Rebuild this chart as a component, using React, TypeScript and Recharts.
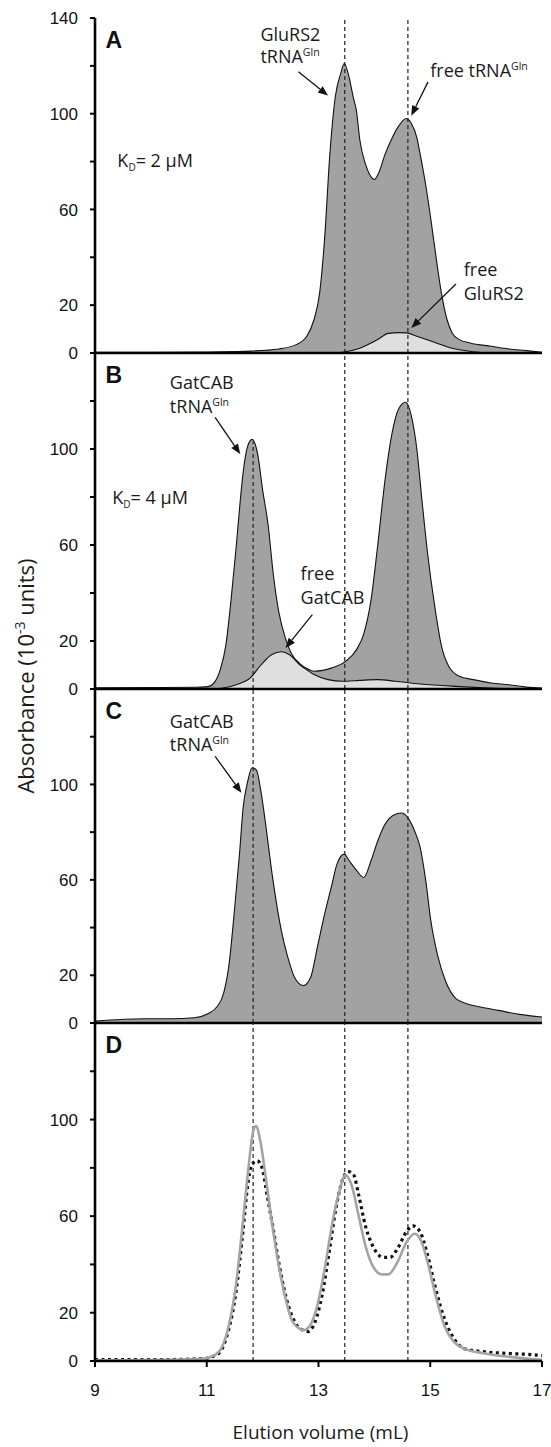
import React from 'react'
import { Area, ComposedChart, Line, ReferenceLine, XAxis, YAxis } from 'recharts'

const W = 551
const H = 1447
const PLOT_L = 95
const PLOT_R = 542
const X_DOMAIN: [number, number] = [9, 17]
const X_TICKS = [9, 11, 13, 15, 17]
const Y_TICKS = [0, 20, 40, 60, 80, 100, 120, 140]
const PEAKS = [11.83, 13.47, 14.6]

const PANELS = [
  { top: 18, bottom: 353 },
  { top: 353, bottom: 689 },
  { top: 689, bottom: 1023 },
  { top: 1023, bottom: 1361 },
]

// A: GluRS2 + tRNA (dark) and free GluRS2 (light)
const aX = [9, 10, 11, 11.5, 11.78, 12.29, 12.6, 12.79, 12.92, 13.02, 13.11, 13.2, 13.3, 13.4, 13.46, 13.55, 13.62, 13.68, 13.74, 13.84, 13.93, 14.0, 14.09, 14.19, 14.32, 14.44, 14.57, 14.66, 14.76, 14.82, 14.92, 15.01, 15.11, 15.2, 15.3, 15.39, 15.52, 15.71, 16.09, 16.41, 16.72, 17]
const aY = [0.3, 0.3, 0.4, 0.6, 0.8, 1.7, 3.5, 7, 14, 25, 48, 82, 107, 117, 121, 115, 107, 101, 89, 79, 74, 72.5, 76, 83, 90, 95, 98, 96, 90, 83, 70, 56, 39, 25, 14, 8.5, 5.6, 4.2, 2.8, 1.7, 1, 0.3]
const aFreeX = [13.3, 13.43, 13.74, 14.06, 14.25, 14.45, 14.57, 14.76, 15.01, 15.39, 15.71, 16.0]
const aFreeY = [0, 0.3, 2, 5.6, 8.2, 8.5, 8.4, 7, 5, 2, 0.7, 0]

// B: GatCAB + tRNA (dark) and free GatCAB (light)
const bX = [9, 10, 10.8, 11.02, 11.15, 11.24, 11.34, 11.43, 11.53, 11.59, 11.65, 11.73, 11.81, 11.91, 12.0, 12.1, 12.19, 12.29, 12.41, 12.51, 12.67, 12.79, 12.92, 13.24, 13.49, 13.68, 13.81, 13.94, 14.06, 14.19, 14.32, 14.44, 14.56, 14.66, 14.76, 14.85, 14.95, 15.08, 15.2, 15.33, 15.52, 15.77, 16.09, 16.41, 16.72, 17]
const bY = [0.5, 0.6, 0.7, 1, 3.2, 8, 18, 36, 60, 76, 90, 101, 104, 98, 83, 68, 48, 32, 21, 15, 10.5, 8.5, 7.4, 8.8, 11.6, 16.4, 23, 37, 60, 87, 107, 117, 119.5, 114, 100, 79, 57, 34.5, 18, 9.5, 5.3, 3.9, 2.5, 1.8, 0.8, 0.4]
const bFreeX = [11.1, 11.27, 11.53, 11.78, 11.97, 12.16, 12.34, 12.48, 12.67, 12.79, 12.92, 13.17, 13.43, 13.74, 14.06, 14.38, 14.82, 15.46, 16.09, 16.72, 17]
const bFreeY = [0, 0.3, 1.8, 4.6, 10, 14.3, 15.5, 14.3, 10, 8, 6, 3.9, 3.2, 3.6, 3.9, 3.2, 2.1, 1.1, 0.4, 0, 0]

// C: GatCAB + GluRS2 + tRNA
const cX = [9, 9.88, 10.38, 10.77, 11.02, 11.18, 11.3, 11.4, 11.49, 11.59, 11.65, 11.73, 11.81, 11.89, 11.97, 12.07, 12.16, 12.26, 12.35, 12.45, 12.57, 12.73, 12.86, 12.98, 13.11, 13.24, 13.33, 13.46, 13.55, 13.68, 13.81, 13.94, 14.06, 14.19, 14.38, 14.49, 14.6, 14.72, 14.82, 14.92, 15.01, 15.14, 15.27, 15.46, 15.65, 15.9, 16.22, 16.6, 17]
const cY = [0.8, 1.8, 1.8, 2.2, 3.9, 6.7, 12.3, 24.8, 45.7, 72, 90, 101, 107, 106, 97, 80.5, 64, 48.5, 37, 27.6, 19.2, 15.7, 19.2, 31.8, 45.7, 58, 66.6, 70.8, 68, 64, 61, 68, 76.3, 83.3, 87.5, 88, 86, 80.5, 73.5, 59.6, 42.9, 27.6, 17.8, 10.2, 8.1, 6.7, 5.3, 3.6, 2.5]

// D: gray solid and black dotted traces
const dSolidX = [9, 10.38, 10.95, 11.14, 11.26, 11.39, 11.52, 11.64, 11.74, 11.83, 11.88, 11.96, 12.05, 12.14, 12.27, 12.4, 12.52, 12.65, 12.74, 12.87, 12.99, 13.12, 13.25, 13.37, 13.48, 13.59, 13.72, 13.84, 13.97, 14.13, 14.25, 14.41, 14.57, 14.72, 14.85, 14.97, 15.1, 15.26, 15.42, 15.6, 15.98, 16.42, 16.93, 17]
const dSolidY = [0.3, 0.5, 1, 2.4, 5.2, 14.2, 31, 56, 78.5, 95, 97.3, 91, 77, 61.7, 42, 26.8, 17, 13.5, 12.8, 15.6, 24, 39.4, 57.5, 70, 77, 73, 60, 47.8, 39.4, 35.9, 35.9, 40.8, 49, 52.7, 49, 39.4, 26.8, 14.2, 8, 5.2, 3.1, 1.7, 0.6, 0.5]
const dDotX = [9, 10.2, 10.95, 11.14, 11.26, 11.39, 11.52, 11.64, 11.74, 11.8, 11.9, 11.99, 12.08, 12.18, 12.3, 12.43, 12.59, 12.72, 12.81, 12.94, 13.06, 13.19, 13.31, 13.44, 13.53, 13.63, 13.72, 13.84, 14.0, 14.16, 14.28, 14.41, 14.57, 14.69, 14.82, 14.94, 15.07, 15.22, 15.42, 15.6, 15.98, 16.42, 16.93, 17]
const dDotY = [0.6, 0.6, 1, 2.2, 4.5, 12.8, 28, 52, 74, 81, 83, 80, 68.7, 56, 39.4, 25.4, 15.6, 12.8, 12.2, 16.3, 26.8, 45, 63, 75.7, 78.5, 77, 68.7, 56, 46.4, 42.9, 42.9, 46.4, 53.4, 56, 53.4, 45, 32.4, 19.8, 9.4, 5.2, 3.8, 3.1, 2.4, 2.2]

function merge(series: Record<string, [number[], number[]]>) {
  const rows = new Map<number, any>()
  Object.entries(series).forEach(([key, [xs, ys]]) => {
    xs.forEach((x, i) => {
      if (!rows.has(x)) rows.set(x, { x })
      rows.get(x)[key] = ys[i]
    })
  })
  return Array.from(rows.values()).sort((a, b) => a.x - b.x)
}

const rowsA = merge({ main: [aX, aY], free: [aFreeX, aFreeY] })
const rowsB = merge({ main: [bX, bY], free: [bFreeX, bFreeY] })
const rowsC = merge({ main: [cX, cY] })
const rowsD = merge({ solid: [dSolidX, dSolidY], dotted: [dDotX, dDotY] })

// used only to place annotation text / arrows
const sx = (v: number) => PLOT_L + ((v - X_DOMAIN[0]) / (X_DOMAIN[1] - X_DOMAIN[0])) * (PLOT_R - PLOT_L)
const sy = (p: number, v: number) => {
  const { top, bottom } = PANELS[p]
  return bottom - (v / 140) * (bottom - top)
}

const TICK_FONT = '"Liberation Sans", Arial, sans-serif'
const TEXT_FONT = '"Open Sans", "DejaVu Sans", sans-serif'
const AXIS = { stroke: '#000', strokeWidth: 2.6 }
const DARK = '#a2a2a2'
const LIGHT = '#dedede'
const FS = 18

function YTick(labels: number[]) {
  return ({ x, y, payload }: any) =>
    labels.includes(payload.value) ? (
      <text x={x - 10} y={y} dy="0.36em" textAnchor="end" fontSize={17} fontFamily={TICK_FONT} fill="#111">
        {payload.value}
      </text>
    ) : (
      <g />
    )
}

function XTick({ x, y, payload }: any) {
  return (
    <text x={x} y={y} dy={27} textAnchor="middle" fontSize={17} fontFamily={TICK_FONT} fill="#111">
      {payload.value}
    </text>
  )
}

function Panel({ idx, rows, labels, showX, children }: any) {
  const p = PANELS[idx]
  const mt = 12
  const xh = showX ? 45 : 16
  return (
    <div style={{ position: 'absolute', left: 0, top: p.top - mt }}>
      <ComposedChart
        width={W}
        height={p.bottom - p.top + mt + xh}
        data={rows}
        margin={{ top: mt, right: W - PLOT_R, bottom: 0, left: 0 }}
      >
        <XAxis
          dataKey="x"
          type="number"
          domain={X_DOMAIN}
          ticks={X_TICKS}
          interval={0}
          height={xh}
          axisLine={AXIS}
          tickLine={{ stroke: '#000', strokeWidth: 2 }}
          tickSize={6}
          tick={showX ? <XTick /> : false}
        />
        <XAxis
          xAxisId="top"
          orientation="top"
          dataKey="x"
          type="number"
          domain={X_DOMAIN}
          height={0}
          tick={false}
          tickLine={false}
          axisLine={AXIS}
        />
        <YAxis
          type="number"
          domain={[0, 140]}
          ticks={Y_TICKS}
          interval={0}
          width={PLOT_L}
          axisLine={AXIS}
          tickLine={{ stroke: '#000', strokeWidth: 2 }}
          tickSize={5}
          tick={YTick(labels)}
        />
        <YAxis
          yAxisId="right"
          orientation="right"
          type="number"
          domain={[0, 140]}
          width={0}
          tick={false}
          tickLine={false}
          axisLine={AXIS}
        />
        {children}
      </ComposedChart>
    </div>
  )
}

function dashed(xs: number[]) {
  return xs.map((x) => (
    <ReferenceLine key={`r${x}`} x={x} stroke="#222" strokeWidth={1.2} strokeDasharray="4 3" />
  ))
}

function Arrow({ from, to }: { from: [number, number]; to: [number, number] }) {
  const [x1, y1] = from
  const [x2, y2] = to
  const a = Math.atan2(y2 - y1, x2 - x1)
  const len = 10
  const hw = 4
  const bx = x2 - len * Math.cos(a)
  const by = y2 - len * Math.sin(a)
  const px = -Math.sin(a) * hw
  const py = Math.cos(a) * hw
  return (
    <g>
      <line x1={x1} y1={y1} x2={bx} y2={by} stroke="#111" strokeWidth={1.3} />
      <polygon points={`${x2},${y2} ${bx + px},${by + py} ${bx - px},${by - py}`} fill="#111" />
    </g>
  )
}

function TRna({ x, y, pre = '' }: { x: number; y: number; pre?: string }) {
  return (
    <text x={x} y={y} fontSize={FS} fontFamily={TEXT_FONT} fill="#1a1a1a">
      {pre}tRNA
      <tspan fontSize={10.5} dy={-7}>
        Gln
      </tspan>
    </text>
  )
}

function Txt({ x, y, children }: any) {
  return (
    <text x={x} y={y} fontSize={FS} fontFamily={TEXT_FONT} fill="#1a1a1a">
      {children}
    </text>
  )
}

function Kd({ x, y, v }: { x: number; y: number; v: string }) {
  return (
    <text x={x} y={y} fontSize={FS} fontFamily={TEXT_FONT} fill="#1a1a1a">
      K
      <tspan fontSize={10} dy={4}>
        D
      </tspan>
      <tspan dy={-4}>{`= ${v} μM`}</tspan>
    </text>
  )
}

function Letter({ p, t }: { p: number; t: string }) {
  return (
    <text x={sx(9.19)} y={sy(p, 127.5)} fontSize={23} fontWeight="bold" fontFamily={TICK_FONT} fill="#111">
      {t}
    </text>
  )
}

export default function App() {
  return (
    <div style={{ position: 'absolute', left: 0, top: 0, width: W, height: H, background: '#fff' }}>
      <Panel idx={0} rows={rowsA} labels={[0, 20, 60, 100, 140]}>
        {[
          <Area key="m" dataKey="main" type="monotone" stroke="#111" strokeWidth={1.1} fill={DARK} fillOpacity={1} connectNulls isAnimationActive={false} />,
          <Area key="f" dataKey="free" type="monotone" stroke="#111" strokeWidth={1.1} fill={LIGHT} fillOpacity={1} connectNulls isAnimationActive={false} />,
          ...dashed([PEAKS[1], PEAKS[2]]),
        ]}
      </Panel>
      <Panel idx={1} rows={rowsB} labels={[0, 20, 60, 100]}>
        {[
          <Area key="m" dataKey="main" type="monotone" stroke="#111" strokeWidth={1.1} fill={DARK} fillOpacity={1} connectNulls isAnimationActive={false} />,
          <Area key="f" dataKey="free" type="monotone" stroke="#111" strokeWidth={1.1} fill={LIGHT} fillOpacity={1} connectNulls isAnimationActive={false} />,
          <ReferenceLine key="seg" segment={[{ x: PEAKS[0], y: 0 }, { x: PEAKS[0], y: 103 }]} stroke="#222" strokeWidth={1.2} strokeDasharray="4 3" />,
          ...dashed([PEAKS[1], PEAKS[2]]),
        ]}
      </Panel>
      <Panel idx={2} rows={rowsC} labels={[0, 20, 60, 100]}>
        {[
          <Area key="m" dataKey="main" type="monotone" stroke="#111" strokeWidth={1.1} fill={DARK} fillOpacity={1} connectNulls isAnimationActive={false} />,
          ...dashed(PEAKS),
        ]}
      </Panel>
      <Panel idx={3} rows={rowsD} labels={[0, 20, 60, 100]} showX>
        {[
          ...dashed(PEAKS),
          <Line key="d" dataKey="dotted" type="monotone" stroke="#111" strokeWidth={3.2} strokeDasharray="3 3.5" dot={false} connectNulls isAnimationActive={false} />,
          <Line key="s" dataKey="solid" type="monotone" stroke="#a4a4a4" strokeWidth={2.6} dot={false} connectNulls isAnimationActive={false} />,
        ]}
      </Panel>

      <svg width={W} height={H} style={{ position: 'absolute', left: 0, top: 0, pointerEvents: 'none' }}>
        <Letter p={0} t="A" />
        <Letter p={1} t="B" />
        <Letter p={2} t="C" />
        <Letter p={3} t="D" />

        {/* panel A */}
        <Txt x={sx(11.96)} y={sy(0, 133) + 6}>GluRS2</Txt>
        <TRna x={sx(11.96)} y={sy(0, 123.5) + 6} />
        <Arrow from={[sx(12.64), sy(0, 117.5)]} to={[sx(13.17), sy(0, 107.6)]} />
        <TRna x={sx(15.0)} y={sy(0, 118) + 6} pre="free " />
        <Arrow from={[sx(14.96), sy(0, 113.3)]} to={[sx(14.66), sy(0, 99.2)]} />
        <Kd x={sx(9.4)} y={sy(0, 80.2) + 6} v="2" />
        <Txt x={sx(15.6)} y={sy(0, 34.5) + 6}>free</Txt>
        <Txt x={sx(15.6)} y={sy(0, 24.6) + 6}>GluRS2</Txt>
        <Arrow from={[sx(15.46), sy(0, 28.8)]} to={[sx(14.66), sy(0, 10.5)]} />

        {/* panel B */}
        <Txt x={sx(10.34)} y={sy(1, 127.5) + 6}>GatCAB</Txt>
        <TRna x={sx(10.34)} y={sy(1, 117.4) + 6} />
        <Arrow from={[sx(11.15), sy(1, 113.2)]} to={[sx(11.6), sy(1, 97.9)]} />
        <Kd x={sx(9.31)} y={sy(1, 79.4) + 6} v="4" />
        <Txt x={sx(12.68)} y={sy(1, 47.8) + 6}>free</Txt>
        <Txt x={sx(12.68)} y={sy(1, 38) + 6}>GatCAB</Txt>
        <Arrow from={[sx(12.89), sy(1, 31)]} to={[sx(12.41), sy(1, 17.1)]} />

        {/* panel C */}
        <Txt x={sx(10.34)} y={sy(2, 126.3) + 6}>GatCAB</Txt>
        <TRna x={sx(10.34)} y={sy(2, 116.7) + 6} />
        <Arrow from={[sx(11.15), sy(2, 111.8)]} to={[sx(11.62), sy(2, 96.5)]} />

        {/* axis titles */}
        <text
          x={0}
          y={0}
          transform={`translate(34, 676) rotate(-90)`}
          textAnchor="middle"
          fontSize={22}
          fontFamily={TEXT_FONT}
          fill="#1a1a1a"
        >
          Absorbance (10
          <tspan fontSize={14} dy={-9}>
            -3
          </tspan>
          <tspan dy={9}> units)</tspan>
        </text>
        <text x={(PLOT_L + PLOT_R) / 2 + 2} y={1439} textAnchor="middle" fontSize={19} fontFamily={TEXT_FONT} fill="#1a1a1a">
          Elution volume (mL)
        </text>
      </svg>
    </div>
  )
}
